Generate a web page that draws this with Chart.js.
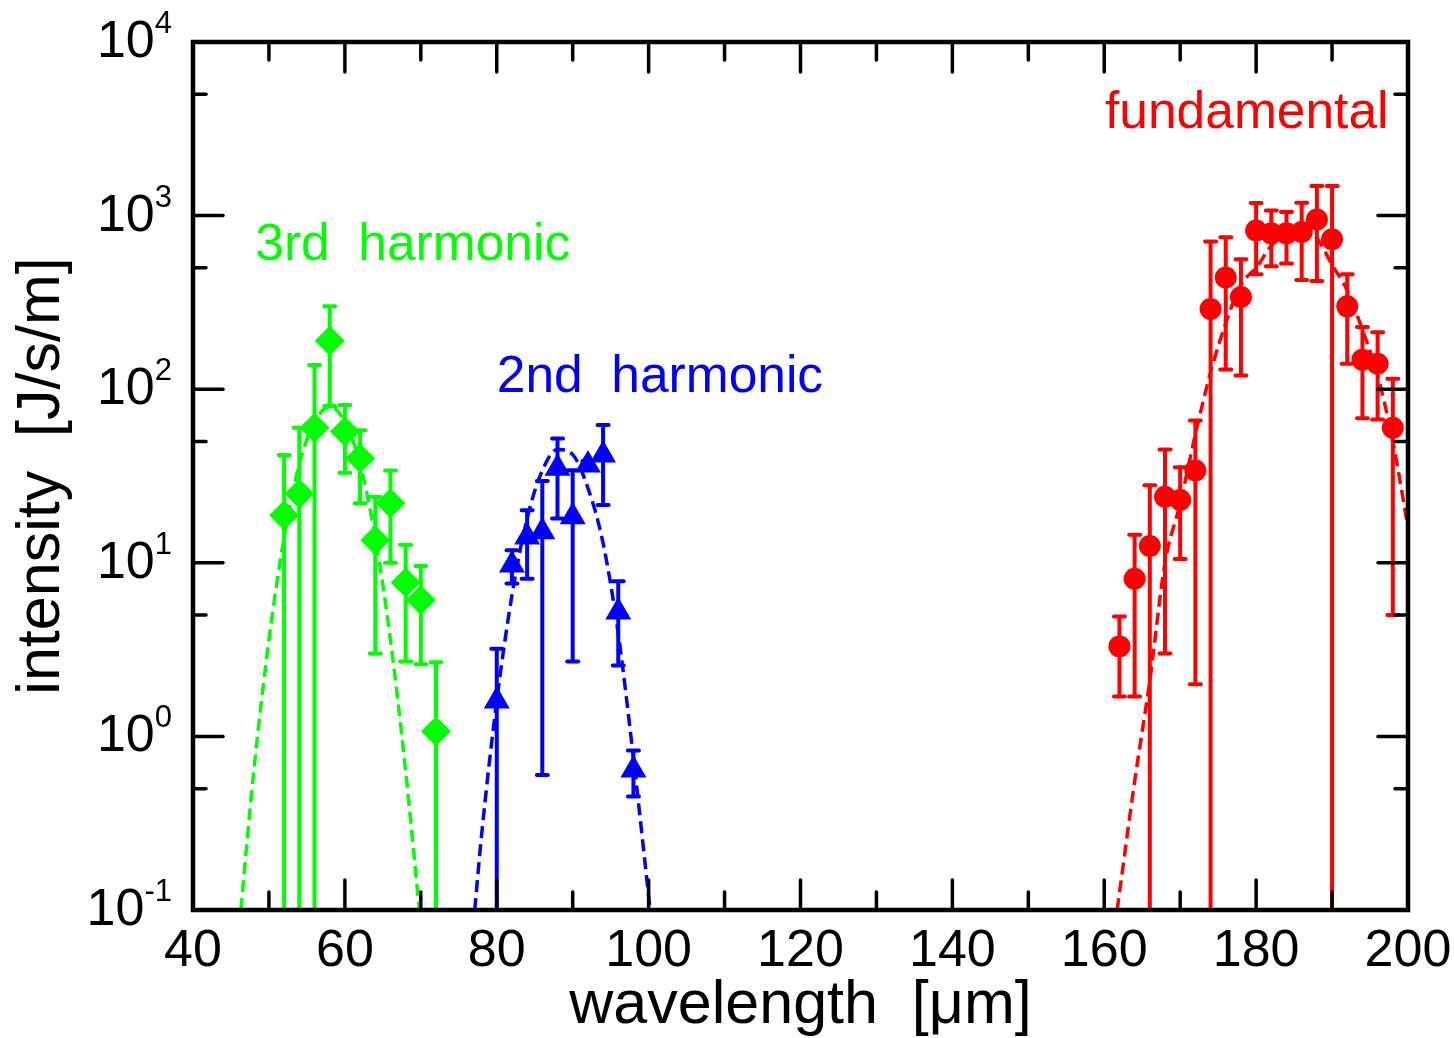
<!DOCTYPE html>
<html lang="en">
<head>
<meta charset="UTF-8">
<title>Harmonic intensity vs wavelength</title>
<script src="https://cdn.jsdelivr.net/npm/chart.js@4"></script>
<style>
    html, body { margin: 0; padding: 0; background: #fff; }
    #plot { display: block; }
</style>
</head>
<body>
<canvas id="plot" width="1454" height="1038"></canvas>
<script>
    const FONT = "'Liberation Sans', Arial, Helvetica, sans-serif";

    // 3rd harmonic (green diamonds) + fit
    const h3Wave = [52, 54, 56, 58, 60, 62, 64, 66, 68, 70, 72];
    const h3Int  = [18.8, 25, 60, 190, 57, 40, 13.5, 22, 7.7, 6.1, 1.07];
    const h3Err  = [23, 35, 78, 110, 24, 18, 10.5, 12, 5, 3.5, 1.6];
    const h3FitWave = [46.3, 48, 50, 52, 54, 56, 58, 60, 62, 64, 66, 68, 69.8];
    const h3FitInt  = [0.1, 0.63, 3.6, 14, 37, 65, 79, 65, 37, 14, 3.6, 0.63, 0.1];

    // 2nd harmonic (blue triangles) + fit
    const h2Wave = [80, 82, 84, 86, 88, 90, 92, 94, 96, 98];
    const h2Int  = [1.6, 9.7, 14.1, 15.1, 35, 18.4, 36.6, 41.8, 5.2, 0.64];
    const h2Err  = [1.6, 2.1, 6, 14.5, 17, 15.7, 2, 20.3, 2.64, 0.19];
    const h2FitWave = [77.1, 78, 80, 82, 84, 86, 88, 90, 92, 94, 96, 98, 100.2];
    const h2FitInt  = [0.1, 0.27, 1.6, 6.5, 18, 34, 45, 42, 27, 13, 3.9, 0.75, 0.1];

    // fundamental (red circles) + fit
    const h1Wave = [162, 164, 166, 168, 170, 172, 174, 176, 178, 180, 182, 184, 186, 188, 190, 192, 194, 196, 198];
    const h1Int  = [3.3, 8.1, 12.5, 24, 23, 34, 290, 440, 340, 820, 790, 790, 805, 950, 730, 300, 148, 140, 60];
    const h1Err  = [1.6, 6.4, 15.5, 21, 12.5, 32, 420, 310, 220, 360, 280, 260, 380, 530, 750, 160, 80, 73, 55];
    const h1FitWave = [161.7, 164, 166, 168, 170, 172, 174, 176, 178, 180, 182, 184, 186, 188, 190, 192, 194, 196, 198, 200];
    const h1FitInt  = [0.1, 0.55, 2.1, 10, 22, 55, 125, 240, 400, 500, 670, 780, 800, 740, 520, 370, 220, 120, 50, 16];

    // axes
    const xMajor = [40, 60, 80, 100, 120, 140, 160, 180, 200];
    const xMinor = [50, 70, 90, 110, 130, 150, 170, 190];
    const yMajor = [0.1, 1, 10, 100, 1000, 10000];
    const yExp   = ['-1', '0', '1', '2', '3', '4'];
    const yMinor = [0.5, 5, 50, 500, 5000];

    const GREEN = '#00ff00', BLUE = '#0000ff', RED = '#ff0000';

    const pts = (xs, ys) => xs.map((v, i) => ({x: v, y: ys[i]}));

    function points(xs, ys, errs, color, style) {
        return {
            data: pts(xs, ys),
            errors: errs,
            pointStyle: style,
            pointRadius: style === 'circle' ? 11 : 15,
            backgroundColor: color,
            borderColor: color,
            borderWidth: 0,
            order: 1
        };
    }

    function fit(xs, ys, color) {
        return {
            data: pts(xs, ys),
            showLine: true,
            borderColor: color,
            borderWidth: 3.5,
            borderDash: [12, 6],
            pointRadius: 0,
            cubicInterpolationMode: 'monotone',
            order: 2
        };
    }

    const notes = [
        {text: '3rd  harmonic', x: 48.2, y: 555, color: GREEN},
        {text: '2nd  harmonic', x: 80.0, y: 96, color: BLUE},
        {text: 'fundamental',   x: 160.1, y: 3200, color: RED}
    ];

    const frame = {
        id: 'frame',
        beforeDatasetsDraw(chart) {
            const {ctx, chartArea: a, scales: {x, y}} = chart;
            ctx.save();
            ctx.beginPath();
            ctx.rect(a.left, a.top, a.right - a.left, a.bottom - a.top);
            ctx.clip();
            ctx.lineWidth = 4;
            ctx.lineCap = 'round';
            chart.data.datasets.forEach(ds => {
                if (!ds.errors) return;
                ctx.strokeStyle = ds.backgroundColor;
                ds.data.forEach((p, i) => {
                    const e = ds.errors[i];
                    const px = x.getPixelForValue(p.x);
                    const top = y.getPixelForValue(p.y + e);
                    const low = p.y - e;
                    const bot = low > 0 ? y.getPixelForValue(low) : a.bottom + 10;
                    ctx.beginPath();
                    ctx.moveTo(px, top); ctx.lineTo(px, bot);
                    ctx.moveTo(px - 5.5, top); ctx.lineTo(px + 5.5, top);
                    if (low > 0) { ctx.moveTo(px - 5.5, bot); ctx.lineTo(px + 5.5, bot); }
                    ctx.stroke();
                });
            });
            ctx.restore();
        },
        afterDatasetsDraw(chart) {
            const {ctx, chartArea: a, scales: {x, y}} = chart;
            ctx.save();
            ctx.strokeStyle = '#000';
            ctx.lineWidth = 3.5;
            ctx.lineCap = 'round';
            const seg = (x1, y1, x2, y2) => { ctx.beginPath(); ctx.moveTo(x1, y1); ctx.lineTo(x2, y2); ctx.stroke(); };
            xMajor.forEach(v => { const p = x.getPixelForValue(v); seg(p, a.bottom, p, a.bottom - 30); seg(p, a.top, p, a.top + 30); });
            xMinor.forEach(v => { const p = x.getPixelForValue(v); seg(p, a.bottom, p, a.bottom - 18); seg(p, a.top, p, a.top + 18); });
            yMajor.forEach(v => { const p = y.getPixelForValue(v); seg(a.left, p, a.left + 30, p); seg(a.right, p, a.right - 30, p); });
            yMinor.forEach(v => { const p = y.getPixelForValue(v); seg(a.left, p, a.left + 13, p); seg(a.right, p, a.right - 13, p); });
            ctx.lineWidth = 4.5;
            ctx.lineJoin = 'miter';
            ctx.strokeRect(a.left, a.top, a.right - a.left, a.bottom - a.top);

            // y tick labels: 10 with raised exponent
            ctx.fillStyle = '#000';
            ctx.textBaseline = 'alphabetic';
            yMajor.forEach((v, i) => {
                const p = y.getPixelForValue(v);
                ctx.font = '31px ' + FONT;
                const we = ctx.measureText(yExp[i]).width;
                const right = 172;
                ctx.textAlign = 'left';
                ctx.fillText(yExp[i], right - we, p - 9);
                ctx.font = '52px ' + FONT;
                ctx.textAlign = 'right';
                ctx.fillText('10', right - we, p + 15);
            });

            // series labels
            ctx.font = '51.5px ' + FONT;
            ctx.textAlign = 'left';
            notes.forEach(n => {
                ctx.fillStyle = n.color;
                ctx.fillText(n.text, x.getPixelForValue(n.x), y.getPixelForValue(n.y));
            });
            ctx.restore();
        }
    };

    const noPad = s => { s.paddingLeft = 0; s.paddingRight = 0; s.paddingTop = 0; s.paddingBottom = 0; };

    new Chart(document.getElementById('plot'), {
        type: 'scatter',
        data: {
            datasets: [
                points(h3Wave, h3Int, h3Err, GREEN, 'rectRot'),
                points(h2Wave, h2Int, h2Err, BLUE, 'triangle'),
                points(h1Wave, h1Int, h1Err, RED, 'circle'),
                fit(h3FitWave, h3FitInt, GREEN),
                fit(h2FitWave, h2FitInt, BLUE),
                fit(h1FitWave, h1FitInt, RED)
            ]
        },
        options: {
            responsive: false,
            devicePixelRatio: 1,
            animation: false,
            layout: { padding: { top: 42, right: 46, left: 0, bottom: 0 } },
            plugins: { legend: { display: false }, tooltip: { enabled: false } },
            scales: {
                x: {
                    type: 'linear',
                    min: 40,
                    max: 200,
                    afterBuildTicks: s => { s.ticks = xMajor.map(v => ({value: v})); },
                    afterFit: s => { s.height = 128; noPad(s); },
                    grid: { display: false, drawTicks: false },
                    border: { display: false },
                    ticks: {
                        autoSkip: false,
                        maxRotation: 0,
                        padding: 16,
                        color: '#000',
                        font: { family: FONT, size: 52, lineHeight: 1 }
                    },
                    title: {
                        display: true,
                        text: 'wavelength  [\u03bcm]',
                        color: '#000',
                        font: { family: FONT, size: 61, lineHeight: 1 },
                        padding: { top: 0, bottom: 1 }
                    }
                },
                y: {
                    type: 'logarithmic',
                    min: 0.1,
                    max: 10000,
                    afterBuildTicks: s => { s.ticks = yMajor.map(v => ({value: v})); },
                    afterFit: s => { s.width = 193; noPad(s); },
                    grid: { display: false, drawTicks: false },
                    border: { display: false },
                    ticks: { display: false },
                    title: {
                        display: true,
                        text: 'intensity  [J/s/m]',
                        color: '#000',
                        font: { family: FONT, size: 61, lineHeight: 1 },
                        padding: { top: 12, bottom: 0 }
                    }
                }
            }
        },
        plugins: [frame]
    });
</script>
</body>
</html>
